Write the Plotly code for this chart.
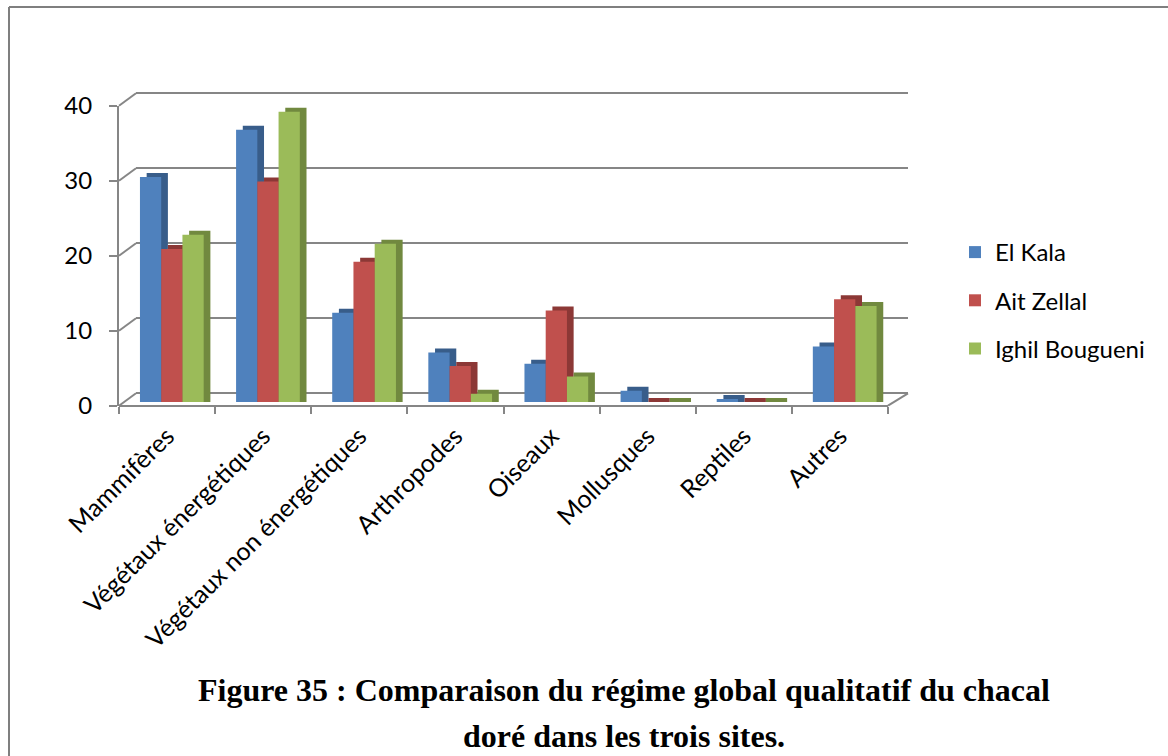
import plotly.graph_objects as go

categories = ["Mammifères", "Végétaux énergétiques", "Végétaux non énergétiques",
              "Arthropodes", "Oiseaux", "Mollusques", "Reptiles", "Autres"]
el_kala = [30.0, 36.3, 11.9, 6.6, 5.1, 1.5, 0.4, 7.4]
ait_zellal = [20.4, 29.4, 18.7, 4.8, 12.2, 0.0, 0.0, 13.7]
ighil_bougueni = [22.3, 38.7, 21.1, 1.1, 3.4, 0.0, 0.0, 12.8]
series_names = ["El Kala", "Ait Zellal", "Ighil Bougueni"]
y_ticks = [0, 10, 20, 30, 40]
caption_lines = ["<b>Figure 35 : Comparaison du régime global qualitatif du chacal</b>",
                 "<b>doré dans les trois sites.</b>"]

W, H = 1168, 756
front_col = ["#4F81BD", "#C0504D", "#9BBB59"]
side_col = ["#385D8A", "#8C3836", "#71893F"]
FONT = "Lato, Carlito, Calibri, sans-serif"

def px(x):
    return x / W

def py(y):
    return 1 - y / H

# geometry (pixels)
front_l, front_r = 119, 888
back_l, back_r = 136, 908
front_top, front_bot = 105.7, 405.7
back_top, back_bot = 93.3, 393.3
bar_top, bar_bot = 102, 402

bw = 0.221
offsets = [-0.282, -0.061, 0.160]
cat_px = (front_r - front_l) / len(categories)
dx = 6.7 / cat_px
dy = 4.0 * 40 / (bar_bot - bar_top)

# back wall axis padded by 1 unit each side so edge gridlines are drawn
back_unit = (back_bot - back_top) / 40
pad = 1.0

fig = go.Figure()
series = [el_kala, ait_zellal, ighil_bougueni]

# back wall grid helper trace
fig.add_trace(go.Scatter(x=[0.5], y=[20], xaxis="x", yaxis="y", mode="markers",
                         marker=dict(opacity=0), showlegend=False, hoverinfo="skip"))
# side/top faces (drawn first)
for i, vals in enumerate(series):
    fig.add_trace(go.Bar(x=categories, y=[v + dy for v in vals], base=0,
                         offset=offsets[i] + dx, width=bw,
                         marker=dict(color=side_col[i], line=dict(width=0)),
                         xaxis="x2", yaxis="y2", showlegend=False, hoverinfo="skip"))
# front faces
for i, vals in enumerate(series):
    fig.add_trace(go.Bar(x=categories, y=vals, offset=offsets[i], width=bw, name=series_names[i],
                         marker=dict(color=front_col[i], line=dict(width=0)),
                         legendgroup=series_names[i],
                         xaxis="x2", yaxis="y2"))
# front axis helper
fig.add_trace(go.Scatter(x=[categories[0]], y=[0], xaxis="x2", yaxis="y3", mode="markers",
                         marker=dict(opacity=0), showlegend=False, hoverinfo="skip"))

shapes = []
grey = "#868686"
for v in y_ticks:
    yf = front_bot - (front_bot - front_top) * v / 40
    yb = back_bot - (back_bot - back_top) * v / 40
    shapes.append(dict(type="line", xref="paper", yref="paper", x0=px(front_l), y0=py(yf),
                       x1=px(back_l), y1=py(yb), line=dict(color=grey, width=2)))
shapes.append(dict(type="line", xref="paper", yref="paper", x0=px(front_r), y0=py(front_bot),
                   x1=px(back_r), y1=py(back_bot), line=dict(color=grey, width=2)))
# outer frame (left + top)
shapes.append(dict(type="line", xref="paper", yref="paper", x0=px(9), y0=py(7), x1=px(9), y1=0,
                   line=dict(color="#7f7f7f", width=2)))
shapes.append(dict(type="line", xref="paper", yref="paper", x0=px(9), y0=py(7), x1=1, y1=py(7),
                   line=dict(color="#7f7f7f", width=2)))

cap_font = dict(family="Liberation Serif, Times New Roman, serif", size=32, color="#000")

fig.update_layout(
    width=W, height=H,
    margin=dict(l=0, r=0, t=0, b=0),
    paper_bgcolor="white", plot_bgcolor="rgba(0,0,0,0)",
    barmode="overlay",
    font=dict(family=FONT, size=24, color="#000000"),
    xaxis=dict(domain=[px(back_l), px(back_r)], range=[0, 1], visible=False, fixedrange=True),
    yaxis=dict(domain=[py(back_bot + pad * back_unit), py(back_top - pad * back_unit)],
               range=[-pad, 40 + pad], tickvals=y_ticks,
               showgrid=True, gridcolor=grey, gridwidth=2, zeroline=False,
               showticklabels=False, ticks="", showline=False, anchor="x"),
    xaxis2=dict(domain=[px(front_l), px(front_r)], type="category",
                categoryorder="array", categoryarray=categories,
                range=[-0.5, len(categories) - 0.5],
                anchor="free", position=py(front_bot),
                showline=True, linecolor=grey, linewidth=2,
                ticks="outside", tickson="boundaries", ticklen=7, tickcolor=grey, tickwidth=2,
                tickangle=-45, tickfont=dict(family=FONT, size=25, color="#000"),
                ticklabelstandoff=5,
                showgrid=False, zeroline=False, automargin=False),
    yaxis2=dict(domain=[py(bar_bot), py(bar_top)], range=[0, 40], visible=False, anchor="x2"),
    yaxis3=dict(domain=[py(front_bot), py(front_top)], range=[0, 40], tickvals=y_ticks,
                anchor="x2", showline=True, linecolor=grey, linewidth=2,
                ticks="outside", ticklen=8, tickcolor=grey, tickwidth=2,
                tickfont=dict(family=FONT, size=24, color="#000"),
                ticklabelstandoff=12,
                showgrid=False, zeroline=False, automargin=False),
    legend=dict(x=px(955), y=py(230), xanchor="left", yanchor="top",
                font=dict(family=FONT, size=24, color="#000"),
                tracegroupgap=14, bgcolor="rgba(0,0,0,0)"),
    shapes=shapes,
    annotations=[
        dict(text=caption_lines[0], xref="paper", yref="paper", x=px(624), y=py(690),
             xanchor="center", yanchor="middle", showarrow=False, font=cap_font),
        dict(text=caption_lines[1], xref="paper", yref="paper", x=px(624), y=py(736),
             xanchor="center", yanchor="middle", showarrow=False, font=cap_font),
    ],
)

fig.write_html("out.html")
